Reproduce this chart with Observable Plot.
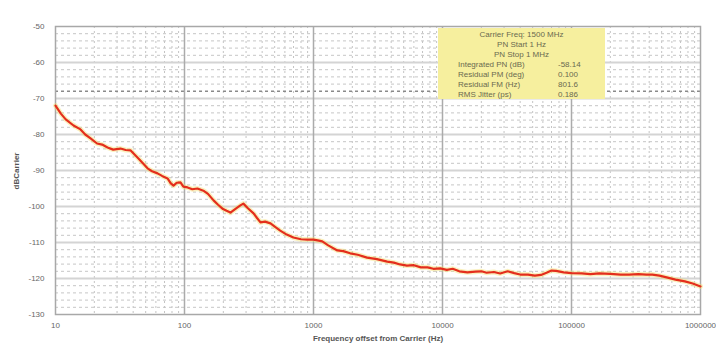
<!DOCTYPE html>
<html>
<head>
<meta charset="utf-8">
<script src="https://cdn.jsdelivr.net/npm/d3@7"></script>
<script src="https://cdn.jsdelivr.net/npm/@observablehq/plot@0.6"></script>
<style>
  html, body { margin: 0; padding: 0; background: #fff; }
  #wrap { position: relative; width: 716px; height: 345px; font-family: "Liberation Sans", Arial, sans-serif; }
  #info { position: absolute; background: #f6ef9e; color: #6a6a50; font-size: 8px; line-height: 10px; }
  #info .c { text-align: center; }
  #info .r { display: flex; }
  #info .r span:first-child { width: 100px; }
  #ylab { position: absolute; left: 16px; top: 171px; transform: translate(-50%, -50%) rotate(-90deg); font-size: 8px; font-weight: bold; color: #555; white-space: nowrap; }
</style>
</head>
<body>
<div id="wrap"></div>
<script>
// Phase-noise trace
const freqHz = [10, 11, 12, 13.8, 15.5, 17, 18.7, 21, 23, 25.3, 28, 31.9, 35, 38.1, 43.2, 47, 51.7, 56, 61.8, 67, 73.9, 78, 82.2, 87, 93.1, 98, 105.6, 115, 126, 140, 152, 168, 182, 197, 212, 227, 250, 271, 286, 310, 343, 365, 388, 420, 464, 510, 552, 620, 698, 800, 893, 1000, 1100, 1170, 1300, 1530, 1700, 1925, 2200, 2600, 3100, 3730, 4200, 4690, 5300, 6000, 6800, 7660, 8500, 9600, 10800, 12000, 13500, 15600, 18000, 20000, 22000, 25000, 28000, 32000, 36000, 40000, 46000, 52000, 58000, 64000, 70000, 76000, 87000, 100000, 120000, 140000, 164000, 200000, 240000, 280000, 330000, 380000, 424000, 480000, 547000, 640000, 757000, 870000, 1000000];
const dBc = [-72, -74.2, -75.8, -77.5, -78.5, -80, -81.1, -82.5, -82.8, -83.6, -84.2, -83.9, -84.3, -84.4, -86.4, -87.8, -89.4, -90.2, -90.8, -91.5, -92.2, -93.5, -94.2, -93.4, -93.3, -94.5, -94.7, -95.2, -95, -95.6, -96.5, -98.3, -99.5, -100.6, -101.2, -101.7, -100.6, -99.7, -99.2, -100.5, -101.9, -103.2, -104.4, -104.2, -104.7, -105.8, -106.7, -107.8, -108.6, -109.1, -109.2, -109.2, -109.5, -109.7, -110.8, -112.2, -112.4, -113, -113.4, -114.2, -114.6, -115.3, -115.6, -116.1, -116.4, -116.3, -116.9, -116.9, -117.3, -117.2, -117.6, -117.3, -118.0, -118.3, -118.1, -118.0, -118.4, -118.2, -118.6, -118.0, -118.5, -118.9, -118.9, -119.2, -119.0, -118.4, -117.8, -117.9, -118.3, -118.5, -118.6, -118.8, -118.6, -118.7, -118.9, -118.9, -118.8, -118.9, -118.9, -119.2, -119.7, -120.3, -120.8, -121.4, -122.2];

// Tick labels
const xTicks = [10, 100, 1000, 10000, 100000, 1000000];
const xTickLabels = ["10", "100", "1000", "10000", "100000", "1000000"];
const yTicks = [-50, -60, -70, -80, -90, -100, -110, -120, -130];
const xLabel = "Frequency offset from Carrier (Hz)";
const yLabel = "dBCarrier";

// Info box
const infoTitle = ["Carrier Freq: 1500 MHz", "PN Start 1 Hz", "PN Stop 1 MHz"];
const infoLabels = ["Integrated PN (dB)", "Residual PM (deg)", "Residual FM (Hz)", "RMS Jitter (ps)"];
const infoValues = ["-58.14", "0.100", "801.6", "0.186"];

const data = freqHz.map((f, i) => ({ f, v: dBc[i] }));

// grid lines (derived from scale domains)
const minorX = [];
for (let d = 10; d < 1e6; d *= 10) for (let k = 2; k <= 9; k++) minorX.push(d * k);
const majorX = xTicks.slice(1, -1);
const minorY = d3.range(-128, -50, 2).filter(v => v % 10 !== 0);
const majorY = yTicks.slice(1, -1);

const font = "'Liberation Sans', Arial, sans-serif";
const chart = Plot.plot({
  width: 716,
  height: 345,
  marginLeft: 55,
  marginRight: 16,
  marginTop: 26,
  marginBottom: 31,
  style: { fontFamily: font, background: "#fff", color: "#666" },
  x: { type: "log", domain: [10, 1e6] },
  y: { domain: [-130, -50] },
  marks: [
    Plot.ruleX(minorX, { stroke: "#c4c4c4", strokeDasharray: "2,3", strokeWidth: 1 }),
    Plot.ruleY(minorY, { stroke: v => v === -68 ? "#8a8a8a" : "#c6c6c6", strokeDasharray: "3,3", strokeWidth: v => v === -68 ? 1.4 : 1 }),
    Plot.ruleY(majorY, { stroke: "#d4d4d4", strokeWidth: 2 }),
    Plot.ruleX(majorX, { stroke: "#ababab", strokeWidth: 1.5 }),
    Plot.frame({ stroke: "#a8a8a8", strokeWidth: 1.5 }),
    Plot.axisX({ ticks: xTicks, tickFormat: d => xTickLabels[xTicks.indexOf(d)], tickSize: 0, tickPadding: 8, fontSize: 8, label: null }),
    Plot.axisY({ ticks: yTicks, tickSize: 0, tickPadding: 11, fontSize: 8, label: null, tickFormat: d => String(d) }),
    Plot.text([xLabel], { frameAnchor: "bottom", dy: 26, fontWeight: "bold", fontSize: 8, fill: "#555" }),
    Plot.line(data, { x: "f", y: "v", stroke: "#f5e070", strokeWidth: 5, strokeOpacity: 0.45, curve: "linear" }),
    Plot.line(data, { x: "f", y: "v", stroke: "#e42e1c", strokeWidth: 2.2, curve: "linear" })
  ]
});

const wrap = document.getElementById("wrap");
wrap.appendChild(chart);

const ylab = document.createElement("div");
ylab.id = "ylab";
ylab.textContent = yLabel;
wrap.appendChild(ylab);

const info = document.createElement("div");
info.id = "info";
info.style.left = "438px";
info.style.top = "28px";
info.style.width = "167px";
info.style.height = "71px";
info.style.padding = "2px 0 0 0";
info.style.boxSizing = "border-box";
let html = infoTitle.map(t => `<div class="c">${t}</div>`).join("");
html += infoLabels.map((l, i) => `<div class="r" style="padding-left:20px"><span>${l}</span><span>${infoValues[i]}</span></div>`).join("");
info.innerHTML = html;
wrap.appendChild(info);
</script>
</body>
</html>
